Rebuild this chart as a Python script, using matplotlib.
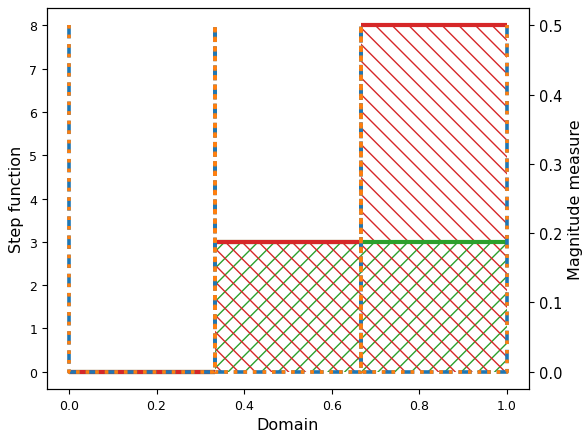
import numpy as np
import matplotlib
matplotlib.use("Agg")
import matplotlib.pyplot as plt

# bin edges of the step function
edges = [0, 1/3, 2/3, 1]
step_red = [0, 3, 8]
step_green = [0, 3, 3]
# point masses drawn as spikes on the measure axis
spike_x = [0, 1/3, 2/3, 1]
spike_h = [0.5, 0.5, 0.5, 0.5]

fig = plt.figure(figsize=(5.86, 4.35), dpi=100)
ax = fig.add_axes([0.0802, 0.1034, 0.8225, 0.8759])

ax.fill_between(edges, step_green + [step_green[-1]], step='post',
                facecolor='none', edgecolor='tab:green', hatch='//', linewidth=0)
ax.hlines(step_green, edges[:-1], edges[1:], color='tab:green', lw=3)
ax.fill_between(edges, step_red + [step_red[-1]], step='post',
                facecolor='none', edgecolor='tab:red', hatch='\\\\', linewidth=0)
ax.hlines(step_red, edges[:-1], edges[1:], color='tab:red', lw=3)
ax.margins(x=0.05, y=0.05)
ax.set_xlabel('Domain', fontsize=11.5)
ax.set_ylabel('Step function', fontsize=11.5)
ax.tick_params(labelsize=9)

ax2 = ax.twinx()
# path: down from each spike top, along zero, up to the next spike
px, py = [], []
for i, (x, h) in enumerate(zip(spike_x, spike_h)):
    if i == 0:
        px += [x, x]
        py += [h, 0]
    elif i < len(spike_x) - 1:
        px += [x, x, x]
        py += [0, h, 0]
    else:
        px += [x, x]
        py += [0, h]
ax2.plot(px, py, color='tab:blue', ls='--', lw=2.6)
ax2.plot(px, py, color='tab:orange', ls=':', lw=2.6)
ax2.set_ylabel('Magnitude measure', fontsize=11.5)
ax2.tick_params(labelsize=10.5)

fig.savefig('out.png', dpi=100)
